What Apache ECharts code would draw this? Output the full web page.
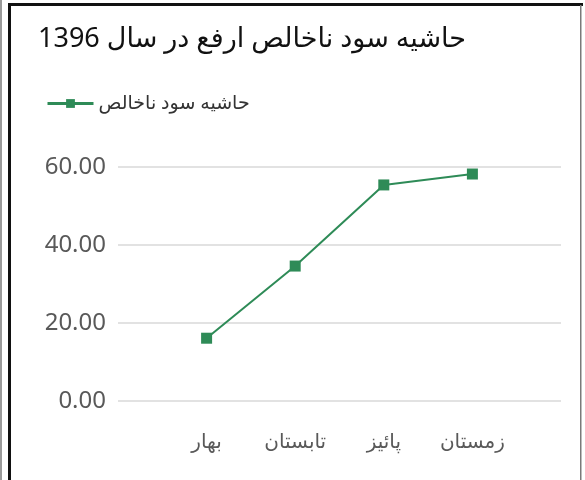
<!DOCTYPE html>
<html>
<head>
<meta charset="utf-8">
<style>
html,body{margin:0;padding:0;background:#fff;}
#chart{width:585px;height:480px;}
</style>
<script src="https://cdn.jsdelivr.net/npm/echarts@6/dist/echarts.min.js"></script>
</head>
<body>
<div id="chart"></div>
<script>
const titleText = 'حاشیه سود ناخالص ارفع در سال 1396';
const seriesName = 'حاشیه سود ناخالص';
const categories = ['بهار', 'تابستان', 'پائیز', 'زمستان'];
const values = [16.1, 34.6, 55.4, 58.2];
const yTicks = [0, 20, 40, 60];

const FONT = "'Noto Sans', 'DejaVu Sans', sans-serif";
const chart = echarts.init(document.getElementById('chart'), null, {renderer: 'canvas'});
const points = values.map((v, i) => [i, v]);

chart.setOption({
  animation: false,
  backgroundColor: '#fff',
  textStyle: {fontFamily: FONT},
  title: {
    text: titleText,
    left: 33,
    top: 21,
    textStyle: {fontSize: 27, fontWeight: 'normal', color: '#111', fontFamily: FONT}
  },
  legend: {
    left: 41,
    top: 89,
    itemWidth: 46,
    itemHeight: 11,
    itemGap: 10,
    data: [seriesName],
    lineStyle: {width: 3},
    textStyle: {fontSize: 19, color: '#333', fontFamily: FONT}
  },
  grid: {left: 118, right: 24, top: 167, bottom: 79, containLabel: false},
  xAxis: {
    type: 'value',
    min: -1,
    max: 4,
    interval: 1,
    axisLine: {show: false},
    axisTick: {show: false},
    splitLine: {show: false},
    axisLabel: {
      margin: 31,
      fontSize: 20,
      color: '#595959',
      fontFamily: FONT,
      formatter: v => (v >= 0 && v < categories.length && Number.isInteger(v)) ? categories[v] : ''
    }
  },
  yAxis: {
    type: 'value',
    min: yTicks[0],
    max: yTicks[yTicks.length - 1],
    interval: 20,
    axisLine: {show: false},
    axisTick: {show: false},
    splitLine: {lineStyle: {color: '#d9d9d9', width: 1.5}},
    axisLabel: {
      margin: 12,
      fontSize: 24,
      color: '#595959',
      fontFamily: FONT,
      formatter: v => v.toFixed(2)
    }
  },
  series: [{
    name: seriesName,
    type: 'line',
    data: points,
    symbol: 'rect',
    symbolSize: 11,
    lineStyle: {color: '#2e8b57', width: 2},
    itemStyle: {color: '#2e8b57'}
  }],
  graphic: [
    {type: 'rect', shape: {x: 0, y: 0, width: 2, height: 480}, style: {fill: '#9a9a9a'}, silent: true},
    {type: 'rect', shape: {x: 8, y: 3, width: 3, height: 477}, style: {fill: '#111'}, silent: true},
    {type: 'rect', shape: {x: 8, y: 3, width: 575, height: 3}, style: {fill: '#111'}, silent: true},
    {type: 'rect', shape: {x: 580, y: 5, width: 1.5, height: 475}, style: {fill: '#7a7a7a'}, silent: true}
  ]
});
</script>
</body>
</html>
